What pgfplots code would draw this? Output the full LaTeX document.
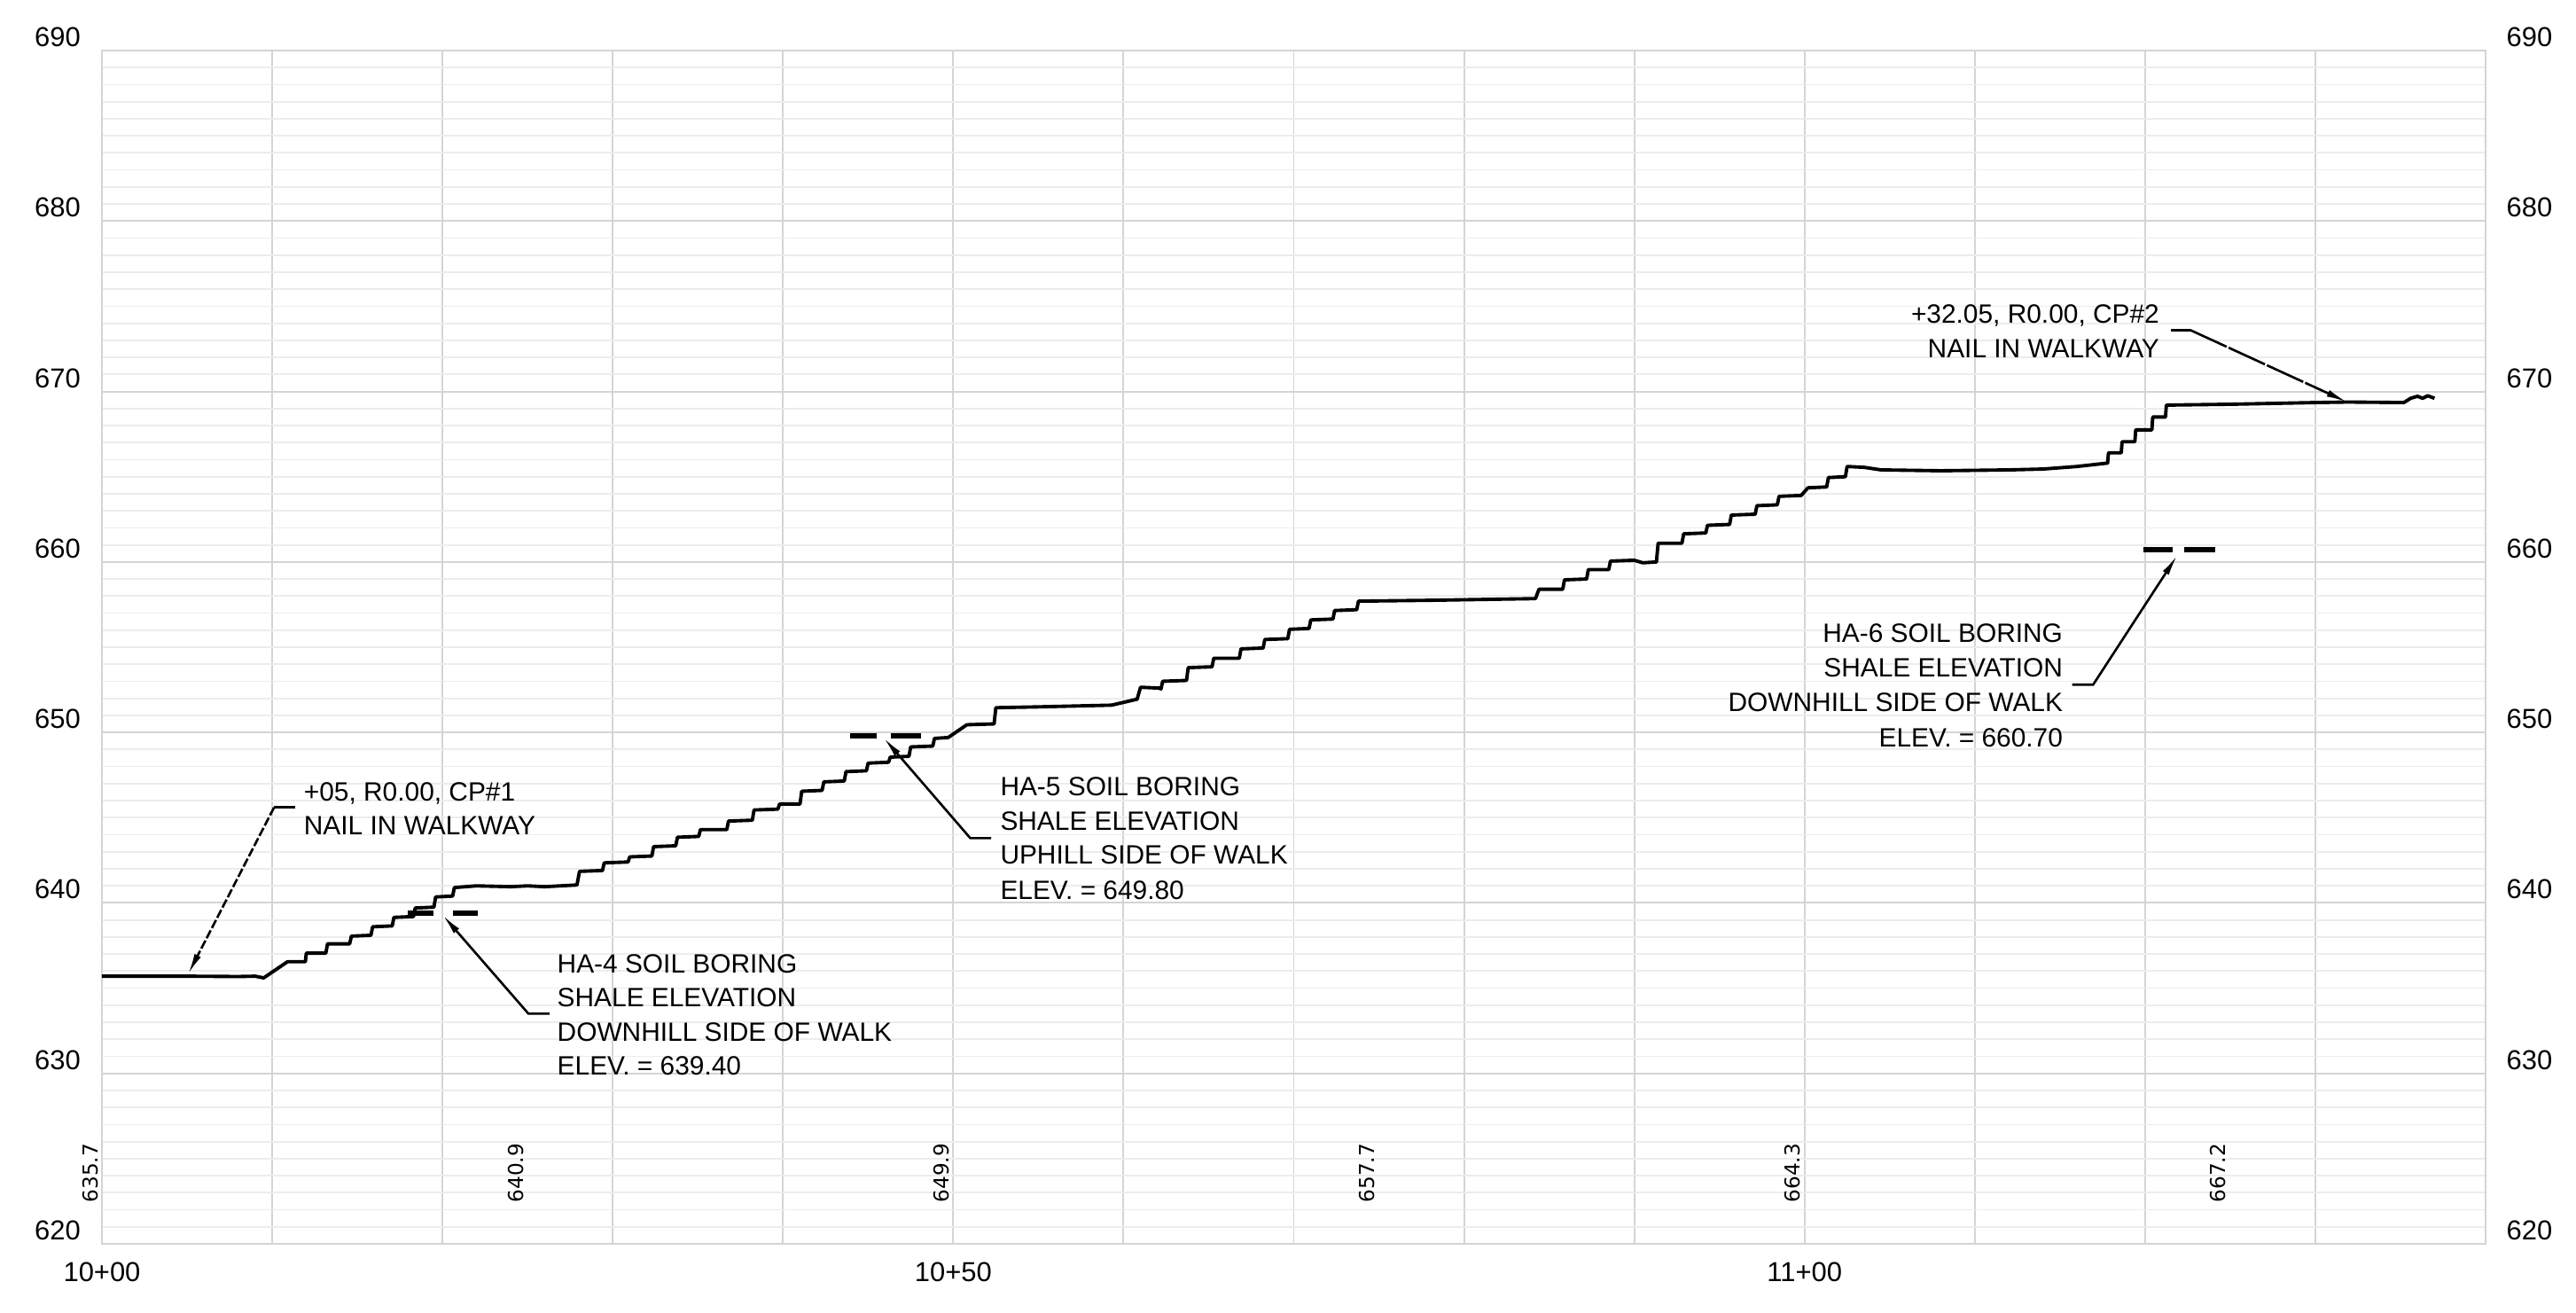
\documentclass[border=0pt]{standalone}
\usepackage{fontspec}
\setmainfont{Liberation Sans}
\newfontfamily\dejavu{DejaVu Sans}
\usepackage{pgfplots}
\pgfplotsset{compat=1.18}
\usetikzlibrary{arrows.meta}
\definecolor{gmaj}{HTML}{D4D4D4}
\definecolor{gmin}{HTML}{ECECEC}
\newcommand{\annfont}{\fontsize{8.5}{10}\selectfont}
\newcommand{\tickfont}{\fontsize{8.8}{10}\selectfont}
\newcommand{\elevfont}{\dejavu\fontsize{6.6}{8}\selectfont}
\tikzset{
  ann/.style={anchor=base west, inner sep=0pt, font=\annfont},
  annr/.style={anchor=base east, inner sep=0pt, font=\annfont},
  elev/.style={rotate=90, anchor=base west, inner sep=0pt, font=\elevfont},
  leader/.style={line width=0.75pt, line cap=butt},
  tip/.style={-{Latex[length=0.24cm,width=0.08cm]}},
}
\begin{document}
\begin{tikzpicture}
\path[use as bounding box] (0,0) rectangle (29.06cm,14.80cm);
\begin{axis}[
  at={(1.15cm,0.77cm)}, anchor=south west,
  scale only axis, width=26.89cm, height=13.46cm,
  xmin=0, xmax=140, ymin=620, ymax=690,
  xtick={0,10,...,140},
  xticklabels={10+00,{},{},{},{},10+50,{},{},{},{},11+00,{},{},{},{}},
  ytick={620,630,...,690},
  minor y tick num=9,
  grid=both,
  major grid style={gmaj, line width=0.55pt},
  minor grid style={gmin, line width=0.5pt},
  axis line style={gmaj, line width=0.6pt},
  major tick length=0pt, minor tick length=0pt,
  tick style={draw=none},
  /pgf/number format/assume math mode=true,
  xticklabel style={font=\tickfont, inner sep=0pt, anchor=north, yshift=-0.20cm},
  yticklabel style={font=\tickfont, inner sep=0pt, anchor=base east, xshift=-0.235cm, yshift=0.045cm},
  clip=false,
]
% ground profile
\addplot[black, line width=1.1pt, line join=round] coordinates {
(0,635.7) (5,635.7) (8,635.68) (9.0,635.7) (9.5,635.6) (10.9,636.55)
(11.95,636.55) (12.0,637.05) (13.15,637.05) (13.25,637.6) (14.55,637.6) (14.65,638.05)
(15.8,638.1) (15.9,638.6) (17.05,638.65) (17.15,639.15) (18.3,639.2) (18.4,639.7)
(19.5,639.75) (19.6,640.35) (20.6,640.4) (20.7,640.9)
(22,641.0) (24,640.95) (25,641.0) (26,640.95) (27.9,641.05)
(28.05,641.85) (29.4,641.9) (29.5,642.35) (30.9,642.4) (31.0,642.7) (32.3,642.75)
(32.4,643.3) (33.7,643.35) (33.8,643.85) (35.05,643.9) (35.15,644.3) (36.7,644.3)
(36.8,644.8) (38.2,644.85) (38.3,645.45) (39.7,645.5) (39.8,645.8) (41.0,645.8)
(41.1,646.55) (42.3,646.6) (42.4,647.1) (43.6,647.15) (43.7,647.7) (44.9,647.75)
(45.0,648.2) (46.2,648.25) (46.3,648.55) (47.4,648.6) (47.5,649.15) (48.8,649.2)
(48.9,649.65) (49.7,649.7) (50.8,650.45) (52.4,650.5) (52.5,651.45)
(55,651.5) (59.3,651.6) (60.8,651.95) (61.0,652.65) (62.1,652.6) (62.2,652.55) (62.3,653.0)
(63.7,653.05) (63.8,653.8) (65.2,653.85) (65.3,654.35) (66.8,654.35) (66.9,654.9)
(68.2,654.95) (68.3,655.45) (69.65,655.5) (69.75,656.05) (70.9,656.1) (71.0,656.6)
(72.3,656.65) (72.4,657.15) (73.7,657.2) (73.8,657.7)
(78,657.75) (84.2,657.85) (84.4,658.4) (85.8,658.4) (85.9,658.95) (87.2,659.0)
(87.3,659.55) (88.5,659.55) (88.6,660.05) (90.0,660.1) (90.5,659.95) (91.3,660.0)
(91.4,661.1) (92.8,661.1) (92.9,661.65) (94.2,661.7) (94.3,662.15) (95.6,662.2)
(95.7,662.75) (97.1,662.8) (97.2,663.3) (98.4,663.35) (98.5,663.85) (99.8,663.9)
(100.2,664.35) (101.3,664.4) (101.4,664.95) (102.4,665.0) (102.5,665.6)
(103.5,665.55) (104.5,665.4) (108,665.35) (112,665.4) (114,665.45) (116,665.6) (117.8,665.8)
(117.85,666.4) (118.6,666.4) (118.65,667.05) (119.4,667.05) (119.45,667.75) (120.4,667.75)
(120.45,668.5) (121.2,668.5) (121.25,669.2)
(125,669.25) (130,669.35) (131.9,669.38) (135.2,669.35)
(135.6,669.6) (136.0,669.72) (136.3,669.6) (136.6,669.75) (137.0,669.6)
};
% soil boring shale elevation markers
\addplot[black, line width=1.7pt] coordinates {(17.98,639.4) (19.47,639.4)};
\addplot[black, line width=1.7pt] coordinates {(20.64,639.4) (22.06,639.4)};
\addplot[black, line width=1.7pt] coordinates {(43.93,649.8) (45.52,649.8)};
\addplot[black, line width=1.7pt] coordinates {(46.35,649.8) (48.10,649.8)};
\addplot[black, line width=1.7pt] coordinates {(119.9,660.7) (121.6,660.7)};
\addplot[black, line width=1.7pt] coordinates {(122.3,660.7) (124.1,660.7)};

% elevation labels along the bottom
\node[elev] at (axis cs:-0.26,622.39) {635.7};
\node[elev] at (axis cs:24.74,622.39) {640.9};
\node[elev] at (axis cs:49.74,622.39) {649.9};
\node[elev] at (axis cs:74.74,622.39) {657.7};
\node[elev] at (axis cs:99.74,622.39) {664.3};
\node[elev] at (axis cs:124.74,622.39) {667.2};

% CP#1
\draw[leader] (axis cs:11.34,645.6) -- (axis cs:10.11,645.6);
\draw[leader, tip, dash pattern=on 0.10cm off 0.03cm] (axis cs:10.11,645.6) -- (axis cs:5.05,635.8);
\node[ann] at (axis cs:11.83,646.0) {+05, R0.00, CP\#1};
\node[ann] at (axis cs:11.83,644.0) {NAIL IN WALKWAY};

% HA-4
\draw[leader, tip] (axis cs:26.28,633.5) -- (axis cs:25.05,633.5) -- (axis cs:20.0,639.3);
\node[ann] at (axis cs:26.71,635.9) {HA-4 SOIL BORING};
\node[ann] at (axis cs:26.71,633.9) {SHALE ELEVATION};
\node[ann] at (axis cs:26.71,631.9) {DOWNHILL SIDE OF WALK};
\node[ann] at (axis cs:26.71,629.9) {ELEV. = 639.40};

% HA-5
\draw[leader, tip] (axis cs:52.23,643.8) -- (axis cs:51.0,643.8) -- (axis cs:45.9,649.7);
\node[ann] at (axis cs:52.73,646.3) {HA-5 SOIL BORING};
\node[ann] at (axis cs:52.73,644.28) {SHALE ELEVATION};
\node[ann] at (axis cs:52.73,642.26) {UPHILL SIDE OF WALK};
\node[ann] at (axis cs:52.73,640.22) {ELEV. = 649.80};

% HA-6
\draw[leader, tip] (axis cs:115.72,652.8) -- (axis cs:116.95,652.8) -- (axis cs:121.9,660.4);
\node[annr] at (axis cs:115.2,655.27) {HA-6 SOIL BORING};
\node[annr] at (axis cs:115.2,653.27) {SHALE ELEVATION};
\node[annr] at (axis cs:115.2,651.22) {DOWNHILL SIDE OF WALK};
\node[annr] at (axis cs:115.2,649.17) {ELEV. = 660.70};

% CP#2
\draw[leader] (axis cs:121.53,673.6) -- (axis cs:122.66,673.6);
\draw[leader, tip, dash pattern=on 0.45cm off 0.025cm] (axis cs:122.66,673.6) -- (axis cs:131.89,669.37);
\node[annr] at (axis cs:120.87,674.0) {+32.05, R0.00, CP\#2};
\node[annr] at (axis cs:120.87,672.0) {NAIL IN WALKWAY};
\end{axis}

% right-hand elevation scale
\begin{axis}[
  at={(1.15cm,0.77cm)}, anchor=south west,
  scale only axis, width=26.89cm, height=13.46cm,
  xmin=0, xmax=140, ymin=620, ymax=690,
  hide x axis, axis y line*=right,
  y axis line style={draw=none},
  ytick={620,630,...,690},
  major tick length=0pt, tick style={draw=none},
  /pgf/number format/assume math mode=true,
  yticklabel style={font=\tickfont, inner sep=0pt, anchor=base west, xshift=0.23cm, yshift=0.045cm},
]
\addplot[draw=none] coordinates {(0,620) (140,690)};
\end{axis}
\end{tikzpicture}
\end{document}
